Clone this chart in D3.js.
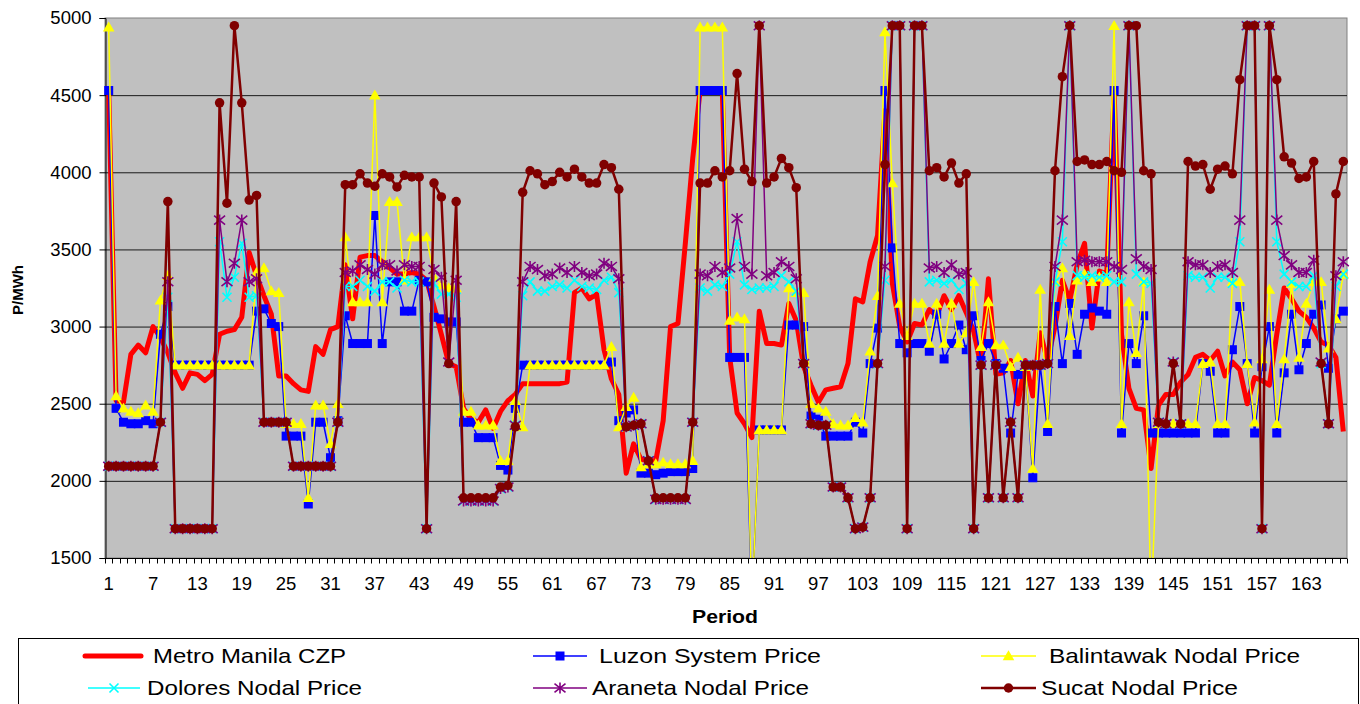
<!DOCTYPE html>
<html><head><meta charset="utf-8">
<script src="https://cdn.jsdelivr.net/npm/d3@7"></script>
<style>
html,body{margin:0;padding:0;background:#fff;}
svg{display:block;font-family:"Liberation Sans",Arial,sans-serif;}
</style></head>
<body>
<svg id="chart" width="1360" height="704"></svg>
<script>
// ---------- DATA ----------
const periods = d3.range(1, 169);
const xTickLabels = [1,7,13,19,25,31,37,43,49,55,61,67,73,79,85,91,97,103,109,115,121,127,133,139,145,151,157,163];
const yTicks = [1500,2000,2500,3000,3500,4000,4500,5000];

const metroManilaCZP = [
4530,2520,2510,2820,2880,2830,3000,2930,2830,2700,
2600,2700,2690,2650,2690,2950,2970,2980,3060,3480,
3330,3200,3080,2680,2680,2630,2590,2580,2870,2820,
2980,3000,3400,3050,3450,3460,3460,3420,3380,3340,
3340,3350,3340,3300,3130,2950,2760,2740,2470,2400,
2380,2460,2340,2450,2520,2560,2630,2630,2630,2630,
2630,2630,2640,3220,3250,3180,3210,2850,2660,2560,
2050,2240,2140,2130,2130,2390,3000,3020,3540,4090,
4530,4530,4530,4530,2800,2440,2370,2280,3100,2890,
2890,2880,3150,3040,2740,2620,2510,2590,2600,2610,
2760,3180,3160,3420,3590,4400,3280,3000,2900,3020,
3010,3110,3070,3200,3110,3200,3090,2970,2740,3310,
2690,2700,2780,2500,2780,2550,2960,2780,3000,3300,
3170,3400,3540,2990,3360,3340,4530,2950,2600,2470,
2460,2080,2490,2560,2560,2640,2690,2800,2820,2780,
2840,2680,2770,2720,2500,2670,2650,2620,2950,3250,
3180,3100,3060,2990,2900,2880,2800,2320];

const luzonSystemPrice = [
4530,2470,2380,2370,2370,2390,2370,2950,3130,2750,
2750,2750,2750,2750,2750,2750,2750,2750,2750,2750,
3100,3115,3020,3000,2290,2290,2290,1850,2380,2380,
2150,2390,3070,2890,2890,2890,3720,2890,3290,3290,
3100,3100,3300,3290,3060,3050,3030,3030,2380,2380,
2280,2280,2280,2100,2070,2470,2750,2750,2750,2750,
2750,2750,2750,2750,2750,2750,2750,2750,2770,2390,
2440,2460,2050,2050,2040,2050,2060,2060,2060,2080,
4530,4530,4530,4530,2800,2800,2800,1200,2330,2330,
2330,2330,3010,3010,3000,2420,2400,2290,2290,2290,
2290,2380,2310,2760,2990,4530,3510,2890,2830,2890,
2890,2840,3080,2790,2890,3010,2850,3070,2780,2890,
2760,2730,2310,2690,2750,2020,2750,2320,3130,2760,
3150,2820,3080,3120,3100,3080,4530,2310,2890,2760,
3070,2310,2310,2310,2310,2310,2310,2310,2760,2710,
2310,2310,2850,3130,2760,2310,2740,3000,2310,2700,
3080,2720,2890,3080,3140,2730,3050,3100];

const balintawakNodal = [
4940,2550,2470,2450,2440,2490,2450,3170,3330,2750,
2750,2750,2750,2750,2750,2750,2750,2750,2750,2750,
3350,3380,3230,3220,2370,2370,2370,1890,2490,2490,
2240,2500,3580,3160,3160,3160,4500,3160,3810,3810,
3300,3580,3580,3580,3320,3270,3250,3250,2450,2450,
2360,2360,2360,2130,2130,2520,2350,2750,2750,2750,
2750,2750,2750,2750,2750,2750,2750,2750,2870,2350,
2480,2540,2090,2110,2110,2120,2110,2110,2110,2130,
4940,4940,4940,4940,3040,3060,3050,1200,2330,2330,
2330,2330,3250,3220,3220,2500,2470,2450,2370,2360,
2360,2410,2380,2840,3200,4910,3930,3150,2940,3150,
3150,2890,3150,2890,3150,2890,2960,3290,2870,3160,
2880,2880,2740,2800,2740,2080,3240,2370,3290,3380,
2940,3300,3340,3290,3320,3290,4950,2370,3160,2830,
3290,1200,2370,2370,2370,2370,2370,2370,2760,2770,
2370,2370,3290,3290,2760,2380,2790,3240,2370,2790,
3280,2800,3150,3290,3290,2860,3050,3340];

const doloresNodal = [
2095,2095,2095,2095,2095,2095,2095,2380,3190,1690,
1690,1690,1690,1690,1690,3550,3190,3320,3540,3190,
3200,2380,2380,2380,2380,2095,2095,2095,2095,2095,
2095,2380,3260,3260,3300,3260,3230,3290,3290,3250,
3300,3290,3290,1690,3280,3210,3210,3190,1870,1870,
1870,1870,1870,1950,1960,2360,3200,3290,3230,3230,
3260,3270,3250,3300,3260,3250,3240,3300,3320,3220,
2350,2360,2370,2130,1880,1880,1880,1880,1880,2380,
3250,3230,3270,3260,3340,3550,3270,3240,3250,3250,
3260,3330,3290,3230,2760,2370,2360,2360,1960,1960,
1890,1690,1700,1890,2760,3300,4950,4950,1690,4950,
4950,3290,3300,3280,3300,3240,3280,1690,2750,1890,
2750,1890,2380,1890,2750,2750,2750,2760,3290,3550,
4950,3330,3320,3330,3320,3330,3290,3290,4950,3340,
3290,3280,2380,2370,2770,2370,3330,3320,3320,3250,
3320,3320,3280,3550,4950,4950,1690,4950,3550,3340,
3290,3260,3260,3330,2760,2370,3260,3340];

const aranetaNodal = [
2095,2095,2095,2095,2095,2095,2095,2380,3290,1690,
1690,1690,1690,1690,1690,3690,3290,3410,3690,3290,
3310,2380,2380,2380,2380,2095,2095,2095,2095,2095,
2095,2380,3350,3360,3400,3370,3340,3400,3400,3360,
3400,3390,3390,1690,3370,3320,2770,3300,1870,1870,
1870,1870,1870,1950,1960,2360,3290,3390,3370,3330,
3340,3380,3350,3390,3350,3330,3340,3410,3390,3310,
2350,2360,2370,2130,1880,1880,1880,1880,1880,2380,
3340,3330,3390,3350,3380,3700,3390,3340,4950,3330,
3350,3420,3390,3310,2760,2370,2360,2360,1960,1960,
1890,1690,1700,1890,2760,3390,4950,4950,1690,4950,
4950,3380,3390,3350,3400,3340,3350,1690,2750,1890,
2750,1890,2380,1890,2750,2750,2750,2760,3390,3690,
4950,3420,3430,3420,3420,3420,3390,3370,4950,3440,
3390,3370,2380,2370,2770,2370,3420,3400,3400,3350,
3390,3400,3350,3690,4950,4950,1690,4950,3690,3460,
3400,3350,3350,3430,2770,2370,3330,3420];

const sucatNodal = [
2095,2095,2095,2095,2095,2095,2095,2380,3810,1690,
1690,1690,1690,1690,1690,4450,3800,4950,4450,3820,
3850,2380,2380,2380,2380,2095,2095,2095,2095,2095,
2095,2380,3920,3920,3990,3930,3910,3990,3970,3905,
3980,3970,3970,1690,3930,3840,2760,3810,1890,1890,
1890,1890,1890,1960,1970,2350,3870,4010,3990,3920,
3940,4000,3970,4020,3970,3930,3930,4050,4030,3890,
2350,2360,2370,2130,1890,1890,1890,1890,1890,2380,
3930,3930,4010,3970,4010,4640,4020,3940,4950,3930,
3970,4090,4030,3900,2760,2370,2360,2360,1960,1960,
1890,1690,1700,1890,2760,4050,4950,4950,1690,4950,
4950,4010,4030,3970,4060,3930,3990,1690,2750,1890,
2750,1890,2380,1890,2750,2750,2750,2760,4010,4620,
4950,4070,4080,4050,4050,4070,4010,4000,4950,4950,
4010,3990,2380,2370,2760,2370,4070,4040,4050,3890,
4020,4040,3990,4600,4950,4950,1690,4950,4600,4100,
4060,3960,3970,4070,2760,2370,3860,4070];

const seriesNames = ["Metro Manila CZP","Luzon System Price","Balintawak Nodal Price","Dolores Nodal Price","Araneta Nodal Price","Sucat Nodal Price"];
const seriesValues = [metroManilaCZP, luzonSystemPrice, balintawakNodal, doloresNodal, aranetaNodal, sucatNodal];

// ---------- STYLE ----------
const styles = [
  {color:"#FF0000", width:5,   marker:"none"},
  {color:"#0000FF", width:1.5, marker:"square"},
  {color:"#FFFF00", width:1.5, marker:"triangle"},
  {color:"#00FFFF", width:1.5, marker:"x"},
  {color:"#800080", width:1.5, marker:"star"},
  {color:"#800000", width:2.5, marker:"circle"}
];

const svg = d3.select("#chart");
const L = 105, R = 1347, T = 18, B = 558;

const x = d3.scalePoint().domain(periods).range([L, R]).padding(0.5);
const xb = d3.scaleBand().domain(periods).range([L, R]);
const y = d3.scaleLinear().domain([1500, 5000]).range([B, T]);

// plot background
svg.append("rect").attr("x", L).attr("y", T).attr("width", R - L).attr("height", B - T)
  .attr("fill", "#C0C0C0").attr("stroke", "#808080").attr("stroke-width", 1);

// gridlines
svg.append("g").selectAll("line").data(yTicks.filter(v => v > 1500 && v < 5000)).join("line")
  .attr("x1", L).attr("x2", R).attr("y1", d => y(d) + 0.5).attr("y2", d => y(d) + 0.5)
  .attr("stroke", "#1a1a1a").attr("stroke-width", 1);

// Y axis
const yAxis = d3.axisLeft(y).tickValues(yTicks).tickSize(6).tickPadding(8).tickFormat(d3.format("d"));
const gy = svg.append("g").attr("transform", `translate(${L + 0.5},0)`).call(yAxis);
gy.select(".domain").attr("stroke", "#000");
gy.selectAll(".tick line").attr("stroke", "#000");
gy.selectAll("text").attr("font-size", 18.5).attr("fill", "#000")
  .attr("font-family", "'Liberation Sans', Arial, sans-serif");

// X axis: minor ticks at each category boundary, labels every 6th
const gx = svg.append("g").attr("transform", `translate(0,${B + 0.5})`);
gx.append("line").attr("x1", L).attr("x2", R).attr("stroke", "#000");
const bounds = periods.map(p => xb(p)).concat([R]);
gx.selectAll("line.t").data(bounds).join("line").attr("class", "t")
  .attr("x1", d => Math.round(d) + 0.5).attr("x2", d => Math.round(d) + 0.5)
  .attr("y1", 0).attr("y2", 5).attr("stroke", "#000");
gx.selectAll("text").data(xTickLabels).join("text")
  .attr("x", d => x(d)).attr("y", 31).attr("text-anchor", "middle")
  .attr("font-size", 18.5).attr("fill", "#000").text(d => d);

// axis titles
svg.append("text").attr("x", 725).attr("y", 623).attr("text-anchor", "middle")
  .attr("font-weight", "bold").attr("font-size", 18).attr("textLength", 66)
  .attr("lengthAdjust", "spacingAndGlyphs").text("Period");
svg.append("text").attr("transform", "translate(23,290) rotate(-90)").attr("text-anchor", "middle")
  .attr("font-weight", "bold").attr("font-size", 15).text("P/MWh");

// clip (vertical only, so edge markers stay whole)
svg.append("clipPath").attr("id", "plotclip").append("rect")
  .attr("x", L - 12).attr("y", T - 8).attr("width", R - L + 24).attr("height", B - T + 8);

function drawMarker(g, type, cx, cy, color, s) {
  if (type === "square") {
    g.append("rect").attr("x", cx - s/2).attr("y", cy - s/2).attr("width", s).attr("height", s).attr("fill", color);
  } else if (type === "triangle") {
    const h = s * 0.95;
    g.append("path").attr("d", `M${cx},${cy - h*0.6}L${cx + s*0.58},${cy + h*0.45}L${cx - s*0.58},${cy + h*0.45}Z`).attr("fill", color);
  } else if (type === "x") {
    const r = s/2;
    g.append("path").attr("d", `M${cx-r},${cy-r}L${cx+r},${cy+r}M${cx-r},${cy+r}L${cx+r},${cy-r}`)
      .attr("stroke", color).attr("stroke-width", 1.6).attr("fill", "none");
  } else if (type === "star") {
    const r = s/2;
    g.append("path").attr("d", `M${cx-r},${cy-r*0.8}L${cx+r},${cy+r*0.8}M${cx-r},${cy+r*0.8}L${cx+r},${cy-r*0.8}M${cx},${cy-r}L${cx},${cy+r}`)
      .attr("stroke", color).attr("stroke-width", 1.6).attr("fill", "none");
  } else if (type === "circle") {
    g.append("circle").attr("cx", cx).attr("cy", cy).attr("r", s/2).attr("fill", color);
  }
}
const markerSize = {square: 9, triangle: 10, x: 9, star: 11, circle: 9.5};

const plot = svg.append("g").attr("clip-path", "url(#plotclip)");
const line = d3.line().x((d, i) => x(periods[i])).y(d => y(d));

seriesValues.forEach((vals, si) => {
  const st = styles[si];
  const g = plot.append("g");
  g.append("path").datum(vals).attr("d", line).attr("fill", "none")
    .attr("stroke", st.color).attr("stroke-width", st.width).attr("stroke-linejoin", "round");
  if (st.marker !== "none") {
    vals.forEach((v, i) => {
      if (v >= 1500 && v <= 5000) drawMarker(g, st.marker, x(periods[i]), y(v), st.color, markerSize[st.marker]);
    });
  }
});

// legend
const lg = svg.append("g");
lg.append("rect").attr("x", 18.5).attr("y", 638.5).attr("width", 1340).attr("height", 80)
  .attr("fill", "#fff").attr("stroke", "#000").attr("stroke-width", 1);
const legendPos = [
  {x1:85, x2:141, tx:153, ty:663, cy:656, len:193},
  {x1:533, x2:587, tx:599, ty:663, cy:656, len:222},
  {x1:981, x2:1036, tx:1049, ty:663, cy:656, len:251},
  {x1:88, x2:140, tx:147, ty:695, cy:688, len:215},
  {x1:533, x2:587, tx:592, ty:695, cy:688, len:217},
  {x1:981, x2:1036, tx:1041, ty:695, cy:688, len:197}
];
seriesNames.forEach((name, i) => {
  const p = legendPos[i], st = styles[i];
  lg.append("line").attr("x1", p.x1).attr("x2", p.x2).attr("y1", p.cy).attr("y2", p.cy)
    .attr("stroke", st.color).attr("stroke-width", st.width).attr("stroke-linecap", i === 0 ? "round" : "butt");
  if (st.marker !== "none") drawMarker(lg, st.marker, (p.x1 + p.x2) / 2, p.cy, st.color, markerSize[st.marker]);
  lg.append("text").attr("x", p.tx).attr("y", p.ty).attr("font-size", 21)
    .attr("textLength", p.len).attr("lengthAdjust", "spacingAndGlyphs").attr("fill", "#000").text(name);
});

// sanity check on series lengths
seriesValues.forEach((v, i) => {
  if (v.length !== 168) svg.append("text").attr("x", 300).attr("y", 40 + i*20).attr("fill", "red").text(seriesNames[i] + " length " + v.length);
});
</script>
</body></html>
